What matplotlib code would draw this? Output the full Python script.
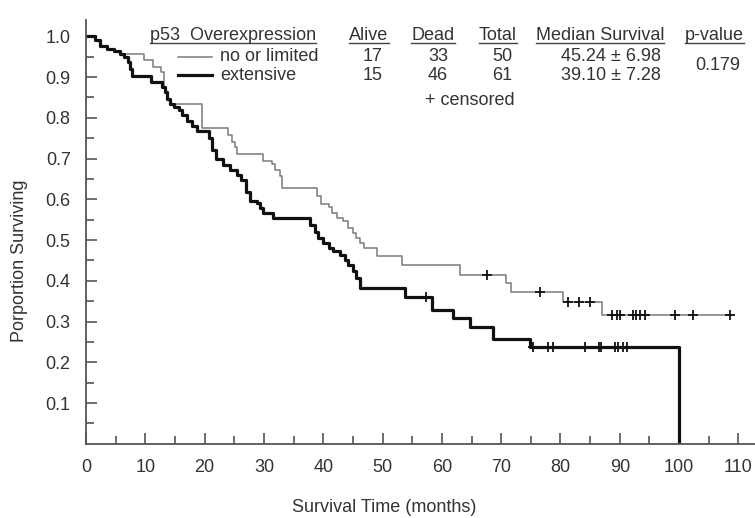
import matplotlib.pyplot as plt
import numpy as np

plt.rcParams["font.family"] = ["Liberation Sans", "DejaVu Sans"]

# Kaplan-Meier steps: (months, proportion surviving)
limited_t = [0, 1.6, 2.4, 3.5, 4.7, 5.8, 9.7, 11.3, 12.7, 13.1, 13.4, 13.7, 14.2,
             19.5, 24.0, 24.6, 25.1, 25.4, 29.9, 31.3, 31.9, 32.7, 33.0, 38.9,
             39.7, 40.9, 41.4, 42.3, 43.4, 44.2, 45.1, 45.6, 46.2, 46.8, 49.1,
             53.3, 63.1, 70.8, 71.7, 80.4, 87.0, 109.0]
limited_s = [1.0, 0.99, 0.977, 0.97, 0.965, 0.957, 0.941, 0.925, 0.912, 0.875,
             0.863, 0.847, 0.834, 0.776, 0.758, 0.741, 0.728, 0.712, 0.695,
             0.687, 0.671, 0.658, 0.627, 0.609, 0.588, 0.58, 0.567, 0.555,
             0.547, 0.53, 0.518, 0.505, 0.493, 0.48, 0.462, 0.44, 0.415, 0.395,
             0.373, 0.348, 0.316, 0.316]
limited_cens = [67.6, 76.6, 81.3, 83.1, 84.9, 88.7, 89.5, 90.1, 92.3, 92.8,
                93.4, 94.3, 99.3, 102.4, 108.6]

extensive_t = [0, 1.6, 2.4, 3.5, 4.7, 5.8, 6.4, 7.0, 7.5, 7.8, 11.0, 12.8, 13.4,
               13.7, 14.2, 14.8, 15.6, 16.2, 17.0, 17.9, 18.7, 20.7, 21.3, 22.0,
               23.1, 24.3, 25.4, 26.2, 27.0, 27.6, 28.8, 29.3, 29.9, 31.5, 37.8,
               38.6, 39.2, 40.0, 40.9, 41.7, 42.8, 43.7, 44.2, 45.1, 45.6, 46.2,
               53.8, 58.3, 61.9, 64.8, 68.7, 74.9, 100.0]
extensive_s = [1.0, 0.99, 0.977, 0.97, 0.965, 0.957, 0.95, 0.937, 0.92, 0.902,
               0.888, 0.875, 0.863, 0.847, 0.834, 0.826, 0.818, 0.806, 0.793,
               0.781, 0.767, 0.75, 0.72, 0.70, 0.685, 0.672, 0.66, 0.648, 0.619,
               0.595, 0.59, 0.578, 0.566, 0.553, 0.536, 0.52, 0.505, 0.493, 0.48,
               0.472, 0.464, 0.451, 0.439, 0.423, 0.406, 0.383, 0.36, 0.328,
               0.308, 0.287, 0.257, 0.237, 0.0]
extensive_cens = [57.3, 75.4, 77.9, 78.8, 84.1, 86.5, 86.9, 89.2, 89.7, 90.6, 91.2]

# summary table
groups = ["no or limited", "extensive"]
alive = [17, 15]
dead = [33, 46]
total = [50, 61]
median_surv = ["45.24 \u00b1 6.98", "39.10 \u00b1 7.28"]
p_value = "0.179"

W, H = 755, 518
fig = plt.figure(figsize=(W / 100, H / 100), dpi=100)
ax = fig.add_axes([86 / W, 1 - 443.8 / H, 669 / W, 423.8 / H])

thin = dict(color="#7a7a7a", lw=1.1)
thick = dict(color="#111111", lw=2.3)

ax.step(limited_t, limited_s, where="post", **thin)
ax.step(extensive_t, extensive_s, where="post", **thick)


def step_value(t_list, s_list, t):
    idx = np.searchsorted(t_list, t, side="right") - 1
    return s_list[idx]


ax.plot(limited_cens, [step_value(limited_t, limited_s, c) for c in limited_cens],
        "+", color="#111111", ms=7, mew=1.3)
ax.plot(extensive_cens, [step_value(extensive_t, extensive_s, c) for c in extensive_cens],
        "+", color="#111111", ms=7, mew=1.3)

ax.set_xlim(0, 112.8)
ax.set_ylim(0, 1.04)
ax.set_xticks(np.arange(0, 111, 10))
ax.set_xticks(np.arange(5, 111, 10), minor=True)
ax.set_yticks(np.arange(0.1, 1.01, 0.1))
ax.set_yticklabels([f"{v:.1f}" for v in np.arange(0.1, 1.01, 0.1)])
ax.set_yticks(np.arange(0.05, 1.0, 0.1), minor=True)

for s in ["top", "right"]:
    ax.spines[s].set_visible(False)
for s in ["left", "bottom"]:
    ax.spines[s].set_color("#555555")
    ax.spines[s].set_linewidth(1.3)

ax.tick_params(which="both", direction="in", color="#555555", width=1.2,
               labelsize=13, labelcolor="#333333")
ax.tick_params(which="major", length=8)
ax.tick_params(which="minor", length=6)
ax.tick_params(axis="x", pad=11)
ax.tick_params(axis="y", pad=11)

fig.text(384 / W, 1 - 508 / H, "Survival Time (months)", ha="center", va="center",
         fontsize=13, color="#333333")
fig.text(20 / W, 1 - 261 / H, "Porportion Surviving", ha="center", va="center",
         rotation=90, fontsize=13, color="#333333")

# table in the upper part, in pixel coordinates of the figure
def ftext(x, y, s, ha="center", underline=False):
    t = fig.text(x / W, 1 - y / H, s, ha=ha, va="center", fontsize=13, color="#333333")
    if underline:
        fig.canvas.draw()
        bb = t.get_window_extent()
        fig.add_artist(plt.Line2D([bb.x0 / W, bb.x1 / W], [1 - 43 / H] * 2,
                                  color="#444444", lw=1.0, transform=fig.transFigure))
    return t


hdr_y, row_y, cens_y = 35, [56.7, 75], 100
ftext(150, hdr_y, "p53  Overexpression", ha="left", underline=True)
ftext(369, hdr_y, "Alive", underline=True)
ftext(433, hdr_y, "Dead", underline=True)
ftext(498, hdr_y, "Total", underline=True)
ftext(600, hdr_y, "Median Survival", underline=True)
ftext(714, hdr_y, "p-value", underline=True)

styles = [thin, thick]
for i in range(2):
    y = row_y[i]
    fig.add_artist(plt.Line2D([178 / W, 212 / W], [1 - y / H] * 2,
                              transform=fig.transFigure, **styles[i]))
    ftext(220, y, groups[i], ha="left")
    ftext(373, y, str(alive[i]))
    ftext(438, y, str(dead[i]))
    ftext(502, y, str(total[i]))
    ftext(611, y, median_surv[i])
ftext(718, (row_y[0] + row_y[1]) / 2, p_value)
ftext(470, cens_y, "+ censored")

fig.savefig("out.png", dpi=100)
